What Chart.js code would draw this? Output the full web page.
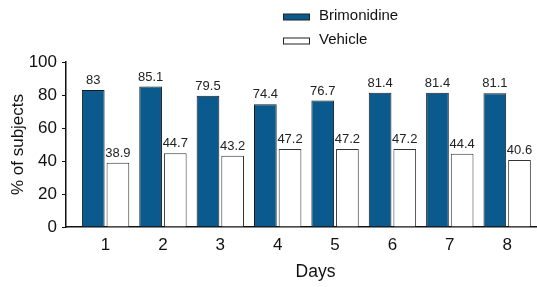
<!DOCTYPE html>
<html>
<head>
<meta charset="utf-8">
<script src="https://cdn.jsdelivr.net/npm/chart.js@4/dist/chart.umd.min.js"></script>
<style>
  html, body { margin: 0; padding: 0; background: #fff; }
  #wrap { width: 537px; height: 287px; }
</style>
</head>
<body>
<div id="wrap"><canvas id="barChart"></canvas></div>
<script>
const days = [1, 2, 3, 4, 5, 6, 7, 8];
const brimonidine = [83, 85.1, 79.5, 74.4, 76.7, 81.4, 81.4, 81.1];
const vehicle = [38.9, 44.7, 43.2, 47.2, 47.2, 47.2, 44.4, 40.6];
const yTicks = [0, 20, 40, 60, 80, 100];
const xTitle = "Days";

const FONT = "'Liberation Sans', Arial, Helvetica, sans-serif";

// value labels above each bar
const barLabels = {
  id: "barLabels",
  afterDatasetsDraw(chart) {
    const ctx = chart.ctx;
    ctx.save();
    ctx.font = "13px " + FONT;
    ctx.fillStyle = "#222";
    ctx.textAlign = "center";
    ctx.textBaseline = "bottom";
    chart.data.datasets.forEach((ds, i) => {
      chart.getDatasetMeta(i).data.forEach((bar, j) => {
        ctx.fillText(String(ds.data[j].y), bar.x, bar.y - 3);
      });
    });
    ctx.restore();
  },
};

// stacked legend at top right + x axis title (sits a bit right of centre)
const extras = {
  id: "extras",
  afterDraw(chart) {
    const ctx = chart.ctx;
    ctx.save();
    ctx.font = "15px " + FONT;
    ctx.textBaseline = "middle";
    chart.data.datasets.forEach((ds, i) => {
      const y = 17 + i * 24;
      ctx.fillStyle = ds.backgroundColor;
      ctx.strokeStyle = "#222";
      ctx.lineWidth = 1;
      ctx.fillRect(283.5, y - 3, 26, 6);
      ctx.strokeRect(283.5, y - 3, 26, 6);
      ctx.fillStyle = "#111";
      ctx.fillText(ds.label, 319, y - 1);
    });

    const xs = chart.scales.x;
    ctx.font = "17.5px " + FONT;
    ctx.textAlign = "center";
    ctx.fillText(xTitle, (xs.left + xs.right) / 2 + 14, 272);
    ctx.restore();
  },
};

const ctx = document.getElementById("barChart").getContext("2d");

new Chart(ctx, {
  type: "bar",
  data: {
    datasets: [
      {
        label: "Brimonidine",
        data: days.map((d, i) => ({ x: d, y: brimonidine[i] })),
        backgroundColor: "#0a5a8e",
        borderColor: "#1a1a1a",
        borderWidth: 1,
      },
      {
        label: "Vehicle",
        data: days.map((d, i) => ({ x: d, y: vehicle[i] })),
        backgroundColor: "#ffffff",
        borderColor: "#333",
        borderWidth: 1,
      },
    ],
  },
  options: {
    responsive: true,
    maintainAspectRatio: false,
    animation: false,
    categoryPercentage: 0.86,
    barPercentage: 0.92,
    layout: { padding: { top: 62, right: 0, left: 0, bottom: 0 } },
    plugins: {
      legend: { display: false },
      tooltip: { enabled: false },
    },
    scales: {
      x: {
        type: "linear",
        offset: false,
        min: 0.31,
        max: 8.52,
        afterBuildTicks: (axis) => {
          axis.ticks = days.map((v) => ({ value: v }));
        },
        afterFit: (axis) => {
          axis.height = 60;
        },
        grid: { display: false, drawTicks: false },
        border: { display: true, color: "#111", width: 1.5 },
        ticks: {
          color: "#111",
          font: { family: FONT, size: 17 },
          padding: 8,
        },
        title: { display: false },
      },
      y: {
        min: 0,
        max: 100,
        afterBuildTicks: (axis) => {
          axis.ticks = yTicks.map((v) => ({ value: v }));
        },
        afterFit: (axis) => {
          axis.width = 66;
        },
        grid: {
          display: true,
          drawOnChartArea: false,
          drawTicks: true,
          tickLength: 4,
          color: "#111",
        },
        border: { display: true, color: "#111", width: 1.5 },
        ticks: {
          color: "#111",
          font: { family: FONT, size: 17 },
          padding: 5,
        },
        title: {
          display: true,
          text: "% of subjects",
          color: "#111",
          font: { family: FONT, size: 17 },
          padding: { top: 8, bottom: 0 },
        },
      },
    },
  },
  plugins: [barLabels, extras],
});
</script>
</body>
</html>
